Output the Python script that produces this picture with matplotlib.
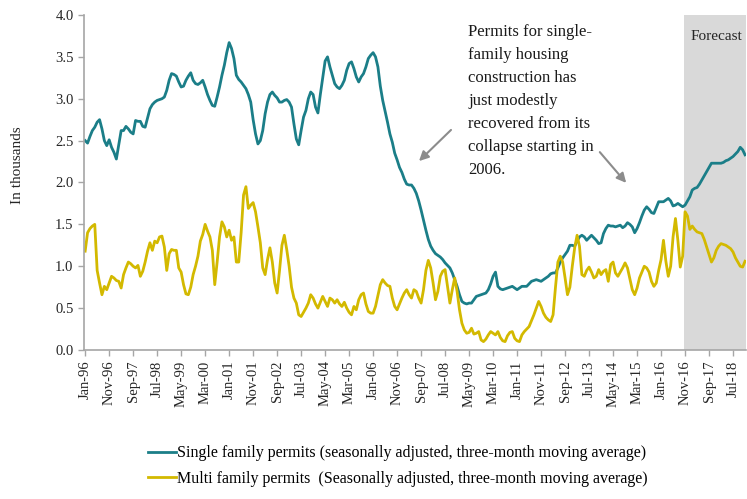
import matplotlib
matplotlib.use("Agg")
import matplotlib.pyplot as plt
import numpy as np

plt.rcParams['font.family'] = ['Liberation Serif', 'DejaVu Serif']

# monthly, Jan-96 .. Dec-18 (thousands)
single_family = [
    2.50, 2.47, 2.55, 2.62, 2.66, 2.72, 2.75, 2.64, 2.50, 2.44,
    2.51, 2.42, 2.36, 2.28, 2.45, 2.62, 2.62, 2.67, 2.64, 2.60,
    2.58, 2.74, 2.73, 2.73, 2.67, 2.66, 2.77, 2.88, 2.93, 2.96,
    2.98, 2.99, 3.00, 3.02, 3.10, 3.22, 3.30, 3.29, 3.27, 3.20,
    3.14, 3.15, 3.22, 3.27, 3.31, 3.22, 3.18, 3.17, 3.19, 3.22,
    3.14, 3.05, 2.98, 2.92, 2.91, 3.02, 3.14, 3.28, 3.40, 3.55,
    3.67, 3.60, 3.48, 3.28, 3.23, 3.20, 3.16, 3.12, 3.05, 2.96,
    2.75, 2.58, 2.46, 2.50, 2.62, 2.82, 2.96, 3.05, 3.08, 3.04,
    3.01, 2.96, 2.96, 2.98, 2.99, 2.96, 2.90, 2.70, 2.52, 2.45,
    2.62, 2.78, 2.86, 3.00, 3.08, 3.05, 2.90, 2.83, 3.05, 3.25,
    3.45, 3.50, 3.38, 3.28, 3.18, 3.14, 3.12, 3.16, 3.22, 3.34,
    3.42, 3.44, 3.36, 3.26, 3.20, 3.26, 3.30, 3.38, 3.48, 3.52,
    3.55, 3.50, 3.38, 3.15, 2.98, 2.85, 2.72, 2.58, 2.48, 2.35,
    2.27, 2.18, 2.12, 2.04, 1.98, 1.97, 1.97, 1.93, 1.87, 1.78,
    1.67, 1.55, 1.43, 1.32, 1.24, 1.19, 1.15, 1.13, 1.11, 1.08,
    1.04, 1.01, 0.98, 0.92, 0.84, 0.76, 0.66, 0.58, 0.56, 0.55,
    0.56, 0.56, 0.60, 0.64, 0.65, 0.66, 0.67, 0.68, 0.72, 0.79,
    0.88, 0.93, 0.76, 0.73, 0.72, 0.73, 0.74, 0.75, 0.76, 0.74,
    0.72, 0.74, 0.76, 0.76, 0.76, 0.79, 0.82, 0.83, 0.84, 0.83,
    0.82, 0.84, 0.86, 0.88, 0.91, 0.92, 0.92, 0.98, 1.05, 1.10,
    1.14, 1.18, 1.25, 1.25, 1.24, 1.30, 1.35, 1.37, 1.35, 1.31,
    1.34, 1.37, 1.34, 1.31, 1.27, 1.28, 1.39, 1.45, 1.49, 1.48,
    1.48, 1.47, 1.48, 1.49, 1.46, 1.48, 1.52, 1.50, 1.47, 1.40,
    1.45, 1.52, 1.60, 1.67, 1.71, 1.68, 1.64, 1.63, 1.70, 1.77,
    1.77, 1.77, 1.79, 1.81, 1.78, 1.72, 1.73, 1.75, 1.73, 1.71,
    1.73, 1.78, 1.83, 1.91, 1.93, 1.94, 1.98, 2.03, 2.08, 2.13,
    2.18, 2.23, 2.23, 2.23, 2.23, 2.23, 2.24, 2.26, 2.27, 2.29,
    2.31, 2.34, 2.37, 2.42, 2.39, 2.33,
]

multi_family = [
    1.18, 1.40, 1.45, 1.48, 1.50, 0.95, 0.80, 0.66, 0.76, 0.72,
    0.80, 0.88, 0.86, 0.83, 0.82, 0.74, 0.90, 0.98, 1.05, 1.03,
    1.00, 0.98, 1.01, 0.88, 0.94, 1.05, 1.18, 1.28, 1.19, 1.30,
    1.28, 1.35, 1.36, 1.23, 0.95, 1.15, 1.20, 1.19, 1.19, 0.98,
    0.93, 0.78, 0.67, 0.66, 0.75, 0.90, 1.00, 1.12, 1.30, 1.38,
    1.50, 1.42, 1.35, 1.19, 0.78, 1.05, 1.35, 1.53, 1.47, 1.35,
    1.43, 1.31, 1.35, 1.05, 1.05, 1.40, 1.85, 1.95, 1.69, 1.73,
    1.76, 1.65, 1.47, 1.28, 0.98, 0.90, 1.08, 1.22, 1.05, 0.80,
    0.68, 0.95, 1.25, 1.37, 1.20, 1.00, 0.75, 0.62, 0.56, 0.42,
    0.40, 0.45, 0.50, 0.56, 0.66, 0.62, 0.55, 0.50, 0.57, 0.64,
    0.58, 0.52, 0.62, 0.60, 0.56, 0.60, 0.55, 0.52, 0.57, 0.50,
    0.45, 0.42, 0.52, 0.48, 0.60, 0.66, 0.68, 0.55, 0.46, 0.44,
    0.44, 0.52, 0.65, 0.78, 0.84, 0.80, 0.77, 0.76, 0.62, 0.52,
    0.48, 0.55, 0.62, 0.68, 0.72, 0.66, 0.62, 0.72, 0.70, 0.62,
    0.56, 0.72, 0.95, 1.07, 0.98, 0.80, 0.60, 0.70, 0.88, 0.94,
    0.96, 0.76, 0.56, 0.72, 0.86, 0.70, 0.48, 0.32, 0.24, 0.20,
    0.21, 0.26, 0.19, 0.20, 0.22, 0.12, 0.10, 0.13, 0.18, 0.22,
    0.20, 0.18, 0.22, 0.15, 0.11, 0.10, 0.17, 0.21, 0.22, 0.14,
    0.11, 0.10, 0.18, 0.22, 0.25, 0.28, 0.35, 0.42, 0.50, 0.58,
    0.52, 0.44, 0.39, 0.36, 0.34, 0.42, 0.75, 1.05, 1.12, 1.05,
    0.86, 0.66, 0.75, 1.00, 1.22, 1.37, 1.24, 0.90, 0.88, 0.95,
    0.99, 0.93, 0.86, 0.88, 0.96, 0.90, 0.94, 0.96, 0.82, 1.02,
    1.05, 0.92, 0.88, 0.93, 0.98, 1.04, 0.98, 0.85, 0.72, 0.66,
    0.74, 0.86, 0.93, 1.00, 0.98, 0.93, 0.82, 0.76, 0.80, 0.95,
    1.08, 1.31, 1.06, 0.88, 1.00, 1.35, 1.57, 1.31, 0.99, 1.12,
    1.65, 1.60, 1.44, 1.48, 1.44, 1.41, 1.40, 1.39, 1.32, 1.23,
    1.14, 1.05, 1.10, 1.19, 1.24, 1.27, 1.26, 1.25, 1.23, 1.21,
    1.17, 1.10, 1.05, 1.00, 0.99, 1.06,
]

tick_labels = ['Jan-96', 'Nov-96', 'Sep-97', 'Jul-98', 'May-99', 'Mar-00',
               'Jan-01', 'Nov-01', 'Sep-02', 'Jul-03', 'May-04', 'Mar-05',
               'Jan-06', 'Nov-06', 'Sep-07', 'Jul-08', 'May-09', 'Mar-10',
               'Jan-11', 'Nov-11', 'Sep-12', 'Jul-13', 'May-14', 'Mar-15',
               'Jan-16', 'Nov-16', 'Sep-17', 'Jul-18']
forecast_start = 250  # Nov-16

teal = '#1b7e88'
yellow = '#d3b900'
axis_grey = '#a6a6a6'

fig = plt.figure(figsize=(7.47, 4.99), dpi=100)
ax = fig.add_axes([0.1124, 0.2986, 0.8866, 0.6714])

x = np.arange(len(single_family))
ax.axvspan(forecast_start - 0.5, len(x) - 0.5, color='#d9d9d9', lw=0, zorder=0)
ax.plot(x, single_family, color=teal, lw=2,
        label='Single family permits (seasonally adjusted, three-month moving average)')
ax.plot(x, multi_family, color=yellow, lw=2,
        label='Multi family permits  (Seasonally adjusted, three-month moving average)')

ax.set_xlim(-0.5, len(x) - 0.5)
ax.set_ylim(0, 4)
ax.set_yticks(np.arange(0, 4.01, 0.5))
ax.set_yticklabels(['%.1f' % v for v in np.arange(0, 4.01, 0.5)], fontsize=10.5)
ax.set_xticks(np.arange(0, len(x), 10))
ax.set_xticklabels(tick_labels, rotation=90, fontsize=10.5)
ax.tick_params(axis='both', color=axis_grey, length=4, width=1, labelcolor='#262626')

for s in ['top', 'right']:
    ax.spines[s].set_visible(False)
for s in ['left', 'bottom']:
    ax.spines[s].set_color(axis_grey)
    ax.spines[s].set_linewidth(1.2)

fig.text(18 / 747, 1 - 165 / 499, 'In thousands', rotation=90,
         ha='center', va='center', fontsize=11, color='#262626')

ax.text((forecast_start + len(x)) / 2, 3.74, 'Forecast', ha='center', va='center',
        fontsize=11, color='#262626')

note = ('Permits for single-\nfamily housing\nconstruction has\njust modestly\n'
        'recovered from its\ncollapse starting in\n2006.')
fig.text(468 / 747, 1 - 24 / 499, note, ha='left', va='top', fontsize=12,
         linespacing=1.58, color='#1a1a1a')

arrow = dict(arrowstyle='-|>', color='#8c8c8c', lw=1.5, mutation_scale=14)
ax.annotate('', xy=(417, 499 - 163), xytext=(453, 499 - 128),
            xycoords='figure pixels', textcoords='figure pixels', arrowprops=arrow)
ax.annotate('', xy=(628, 499 - 185), xytext=(598, 499 - 150),
            xycoords='figure pixels', textcoords='figure pixels', arrowprops=arrow)

fig.legend(loc='upper left', bbox_to_anchor=(142 / 747, 1 - 439 / 499),
           frameon=False, fontsize=11.5, handlelength=1.7, handletextpad=0.1,
           labelspacing=0.6, borderaxespad=0)

fig.savefig('out.png', dpi=100)
